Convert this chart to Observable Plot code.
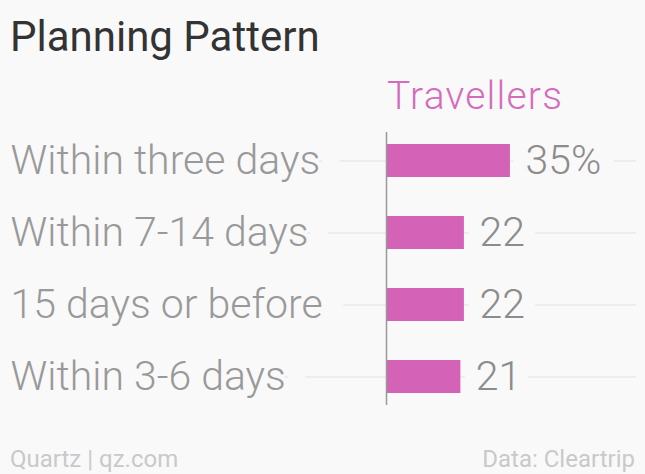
<!DOCTYPE html>
<html>
<head>
<meta charset="utf-8">
<script src="https://cdn.jsdelivr.net/npm/d3@7"></script>
<script src="https://cdn.jsdelivr.net/npm/@observablehq/plot@0.6"></script>
<style>
  html, body { margin: 0; padding: 0; background: #f9f9f9; }
  #wrap { position: relative; width: 645px; height: 474px; overflow: hidden; font-family: Roboto, "Noto Sans", sans-serif; }
  .abs { position: absolute; white-space: nowrap; line-height: 1; }
  #title { left: 10px; top: 15.6px; font-size: 42px; color: #333; }
  #series { left: 387px; top: 77px; font-size: 39px; color: #d46cbb; font-weight: 300; letter-spacing: 1.2px; }
  #chart { position: absolute; left: 0; top: 60px; }
  .foot { top: 447px; font-size: 24px; color: #c9c9c9; }
  #src { left: 10px; }
  #data { right: 10px; }
</style>
</head>
<body>
<div id="wrap">
  <div id="title" class="abs">Planning Pattern</div>
  <div id="series" class="abs">Travellers</div>
  <div id="chart"></div>
  <div id="src" class="abs foot">Quartz | qz.com</div>
  <div id="data" class="abs foot">Data: Cleartrip</div>
</div>
<script>
const categories = ["Within three days", "Within 7-14 days", "15 days or before", "Within 3-6 days"];
const values = [35, 22, 22, 21];
const valueLabels = ["35%", "22", "22", "21"];

const rows = categories.map((c, i) => ({cat: c, value: values[i], label: valueLabels[i]}));
const bg = "#f9f9f9";
const font = "Roboto, 'Noto Sans', sans-serif";

const chart = Plot.plot({
  width: 645,
  height: 360,
  marginLeft: 386,
  marginRight: 9,
  marginTop: 72,
  marginBottom: 15,
  style: {background: "transparent", fontFamily: font, overflow: "visible"},
  x: {domain: [0, 70.6], axis: null},
  y: {domain: categories, axis: null, paddingInner: 0.546, paddingOuter: 0.15},
  marks: [
    Plot.ruleY(rows, {y: "cat", stroke: "#e8e8e8", strokeWidth: 1.5, insetLeft: -376}),
    Plot.text(rows, {
      y: "cat", text: "cat", frameAnchor: "left", dx: -376, textAnchor: "start",
      fontSize: 41, fontWeight: 300, fill: "#999", stroke: bg, strokeWidth: 44, paintOrder: "stroke", strokeLinejoin: "round"
    }),
    Plot.text(rows, {
      x: "value", y: "cat", text: "label", dx: 15, textAnchor: "start",
      fontSize: 41, fontWeight: 300, fill: "#8c8c8c", stroke: bg, strokeWidth: 30, paintOrder: "stroke", strokeLinejoin: "round"
    }),
    Plot.barX(rows, {x: "value", y: "cat", fill: "#d462b6"}),
    Plot.ruleX([0], {stroke: "#999", strokeWidth: 1.5})
  ]
});
document.getElementById("chart").appendChild(chart);
</script>
</body>
</html>
